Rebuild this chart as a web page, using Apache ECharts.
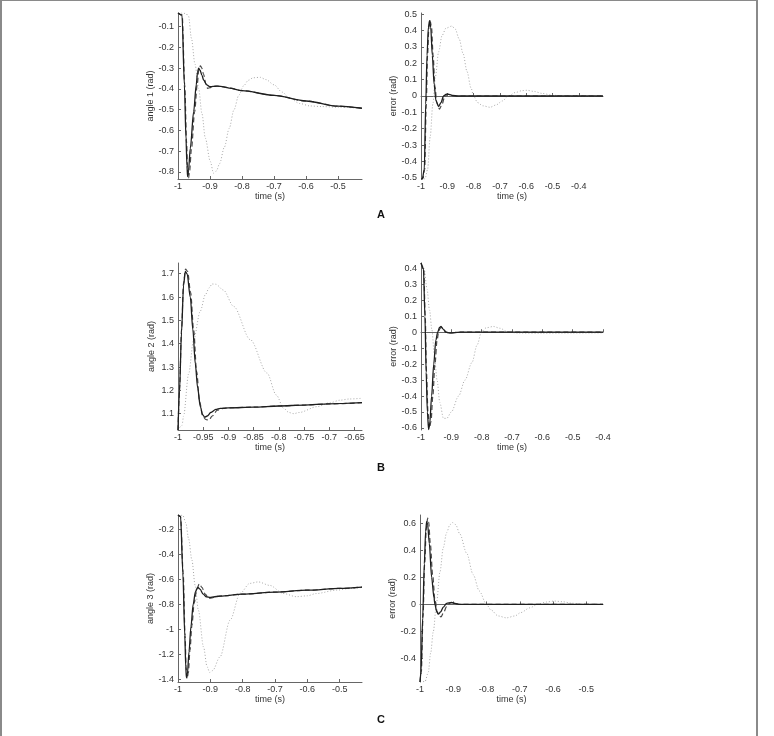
<!DOCTYPE html>
<html>
<head>
<meta charset="utf-8">
<script src="https://cdn.jsdelivr.net/npm/echarts@6/dist/echarts.min.js"></script>
<style>
html, body { margin: 0; padding: 0; background: #fff; overflow: hidden; }
#chart { width: 774px; height: 736px; }
.frame {
  position: absolute; left: 0; top: 0; width: 758px; height: 760px;
  box-sizing: border-box; pointer-events: none;
  border-top: 1px solid #8a8a8a; border-left: 2px solid #8a8a8a; border-right: 2px solid #8a8a8a;
}
</style>
</head>
<body>
<div id="chart"></div>
<div class="frame"></div>
<script>
// ---- tick labels ----
const xTicksA1 = [-1, -0.9, -0.8, -0.7, -0.6, -0.5]
const yTicksA1 = [-0.8, -0.7, -0.6, -0.5, -0.4, -0.3, -0.2, -0.1]
const xTicksA2 = [-1, -0.9, -0.8, -0.7, -0.6, -0.5, -0.4]
const yTicksA2 = [-0.5, -0.4, -0.3, -0.2, -0.1, 0, 0.1, 0.2, 0.3, 0.4, 0.5]
const xTicksB1 = [-1, -0.95, -0.9, -0.85, -0.8, -0.75, -0.7, -0.65]
const yTicksB1 = [1.1, 1.2, 1.3, 1.4, 1.5, 1.6, 1.7]
const xTicksB2 = [-1, -0.9, -0.8, -0.7, -0.6, -0.5, -0.4]
const yTicksB2 = [-0.6, -0.5, -0.4, -0.3, -0.2, -0.1, 0, 0.1, 0.2, 0.3, 0.4]
const xTicksC1 = [-1, -0.9, -0.8, -0.7, -0.6, -0.5]
const yTicksC1 = [-1.4, -1.2, -1, -0.8, -0.6, -0.4, -0.2]
const xTicksC2 = [-1, -0.9, -0.8, -0.7, -0.6, -0.5]
const yTicksC2 = [-0.4, -0.2, 0, 0.2, 0.4, 0.6]

// ---- A: angle 1 ----
const a1Solid = [[-1, -0.034], [-0.9875, -0.044], [-0.98, -0.38], [-0.975, -0.64], [-0.972, -0.77], [-0.970, -0.8225], [-0.967, -0.79],
  [-0.9616, -0.686], [-0.951, -0.509], [-0.943, -0.381], [-0.939, -0.32], [-0.9356, -0.300], [-0.931, -0.31], [-0.925, -0.335],
  [-0.92, -0.357], [-0.91, -0.38], [-0.901, -0.389], [-0.89, -0.388], [-0.878, -0.386], [-0.8575, -0.39], [-0.84, -0.396],
  [-0.8, -0.408], [-0.7, -0.431], [-0.6, -0.458], [-0.5, -0.483], [-0.425, -0.493]]
const a1Dash = [[-1, -0.034], [-0.987, -0.044], [-0.979, -0.38], [-0.973, -0.66], [-0.970, -0.79], [-0.967, -0.83], [-0.964, -0.80],
  [-0.958, -0.69], [-0.948, -0.51], [-0.94, -0.38], [-0.935, -0.31], [-0.930, -0.289], [-0.926, -0.298], [-0.92, -0.33],
  [-0.913, -0.375], [-0.9075, -0.397], [-0.9, -0.394], [-0.89, -0.388], [-0.878, -0.386], [-0.8575, -0.39], [-0.84, -0.396],
  [-0.8, -0.408], [-0.7, -0.431], [-0.6, -0.458], [-0.5, -0.483], [-0.425, -0.493]]
const a1Dot = [[-1, -0.034], [-0.985, -0.034], [-0.975, -0.037], [-0.967, -0.05], [-0.958, -0.156], [-0.947, -0.28], [-0.9356, -0.397],
  [-0.925, -0.52], [-0.9147, -0.637], [-0.899, -0.75], [-0.889, -0.806], [-0.88, -0.795], [-0.87, -0.76], [-0.855, -0.68],
  [-0.84, -0.59], [-0.825, -0.50], [-0.81, -0.43], [-0.795, -0.385], [-0.78, -0.358], [-0.765, -0.346], [-0.743, -0.344],
  [-0.725, -0.355], [-0.70, -0.38], [-0.675, -0.415], [-0.65, -0.445], [-0.62, -0.47], [-0.587, -0.482], [-0.55, -0.485],
  [-0.5, -0.488], [-0.425, -0.493]]

// ---- A: error ----
const e1Solid = [[-1, -0.508], [-0.995, -0.508], [-0.9875, -0.45], [-0.982, -0.05], [-0.977, 0.25], [-0.972, 0.42], [-0.9674, 0.461],
  [-0.963, 0.42], [-0.957, 0.25], [-0.95, 0.07], [-0.943, -0.03], [-0.933, -0.065], [-0.924, -0.04], [-0.914, 0.0], [-0.903, 0.012],
  [-0.893, 0.01], [-0.88, 0.003], [-0.86, 0], [-0.308, 0]]
const e1Dash = [[-1, -0.508], [-0.994, -0.508], [-0.986, -0.45], [-0.98, -0.05], [-0.975, 0.25], [-0.97, 0.42], [-0.965, 0.46],
  [-0.96, 0.42], [-0.954, 0.25], [-0.947, 0.06], [-0.94, -0.04], [-0.9295, -0.08], [-0.92, -0.05], [-0.91, -0.005], [-0.9, 0.01],
  [-0.89, 0.008], [-0.875, 0.002], [-0.86, 0], [-0.308, 0]]
const e1Dot = [[-1, -0.508], [-0.985, -0.508], [-0.975, -0.45], [-0.965, -0.25], [-0.955, -0.05], [-0.945, 0.12], [-0.933, 0.27],
  [-0.92, 0.37], [-0.905, 0.415], [-0.8826, 0.428], [-0.87, 0.41], [-0.855, 0.35], [-0.84, 0.26], [-0.825, 0.15], [-0.81, 0.05],
  [-0.80, 0.0], [-0.785, -0.04], [-0.765, -0.06], [-0.7375, -0.069], [-0.715, -0.055], [-0.69, -0.03], [-0.668, 0.0],
  [-0.64, 0.022], [-0.615, 0.033], [-0.598, 0.035], [-0.57, 0.028], [-0.54, 0.016], [-0.5, 0.005], [-0.46, 0.0], [-0.308, 0]]

// ---- B: angle 2 ----
const a2Solid = [[-1, 1.03], [-0.997, 1.2], [-0.993, 1.45], [-0.989, 1.65], [-0.9855, 1.71], [-0.982, 1.70], [-0.9756, 1.60],
  [-0.9705, 1.46], [-0.9657, 1.315], [-0.961, 1.21], [-0.9557, 1.13], [-0.951, 1.095], [-0.947, 1.085], [-0.942, 1.09],
  [-0.935, 1.105], [-0.925, 1.118], [-0.916, 1.123], [-0.9, 1.125], [-0.85, 1.128], [-0.8, 1.133], [-0.75, 1.137],
  [-0.7, 1.142], [-0.635, 1.147]]
const a2Dash = [[-1, 1.03], [-0.997, 1.2], [-0.993, 1.46], [-0.989, 1.66], [-0.985, 1.72], [-0.981, 1.71], [-0.975, 1.62],
  [-0.969, 1.46], [-0.963, 1.28], [-0.957, 1.15], [-0.951, 1.09], [-0.945, 1.075], [-0.939, 1.072], [-0.932, 1.09],
  [-0.922, 1.115], [-0.91, 1.123], [-0.9, 1.125], [-0.85, 1.128], [-0.8, 1.133], [-0.75, 1.137], [-0.7, 1.142], [-0.635, 1.147]]
const a2Dot = [[-1, 1.03], [-0.992, 1.05], [-0.9889, 1.09], [-0.979, 1.27], [-0.969, 1.417], [-0.9557, 1.54], [-0.9458, 1.61],
  [-0.938, 1.64], [-0.9325, 1.656], [-0.925, 1.655], [-0.91, 1.63], [-0.8896, 1.56], [-0.8565, 1.417], [-0.8233, 1.274],
  [-0.805, 1.18], [-0.7904, 1.123], [-0.78, 1.105], [-0.7705, 1.10], [-0.76, 1.105], [-0.724, 1.13], [-0.70, 1.146],
  [-0.678, 1.158], [-0.66, 1.163], [-0.635, 1.166]]

// ---- B: error ----
const e2Solid = [[-1, 0.434], [-0.992, 0.40], [-0.987, 0.1], [-0.983, -0.25], [-0.979, -0.5], [-0.975, -0.61], [-0.971, -0.57],
  [-0.965, -0.40], [-0.958, -0.2], [-0.951, -0.05], [-0.945, 0.0], [-0.939, 0.03], [-0.934, 0.036], [-0.927, 0.02],
  [-0.918, 0.0], [-0.905, -0.005], [-0.89, -0.002], [-0.87, 0], [-0.4, 0]]
const e2Dash = [[-1, 0.434], [-0.991, 0.40], [-0.986, 0.1], [-0.982, -0.25], [-0.977, -0.5], [-0.972, -0.6], [-0.967, -0.56],
  [-0.961, -0.40], [-0.954, -0.2], [-0.947, -0.05], [-0.942, 0.0], [-0.937, 0.025], [-0.932, 0.03], [-0.925, 0.015],
  [-0.916, 0.0], [-0.905, -0.006], [-0.89, -0.002], [-0.87, 0], [-0.4, 0]]
const e2Dot = [[-1, 0.434], [-0.99, 0.40], [-0.98, 0.27], [-0.972, 0.14], [-0.964, 0.015], [-0.956, -0.14], [-0.947, -0.30],
  [-0.938, -0.44], [-0.926, -0.54], [-0.915, -0.54], [-0.9, -0.50], [-0.876, -0.40], [-0.855, -0.30], [-0.832, -0.19],
  [-0.815, -0.08], [-0.80, 0.005], [-0.785, 0.028], [-0.761, 0.036], [-0.74, 0.025], [-0.712, 0.0], [-0.68, -0.005],
  [-0.6, -0.006], [-0.5, -0.005], [-0.4, -0.004]]

// ---- C: angle 3 ----
const a3Solid = [[-1, -0.088], [-0.992, -0.10], [-0.985, -0.55], [-0.979, -1.05], [-0.976, -1.30], [-0.974, -1.386],
  [-0.971, -1.36], [-0.966, -1.18], [-0.96, -0.98], [-0.953, -0.80], [-0.946, -0.70], [-0.939, -0.666], [-0.932, -0.68],
  [-0.922, -0.72], [-0.912, -0.742], [-0.90, -0.746], [-0.89, -0.742], [-0.87, -0.735], [-0.8, -0.72], [-0.7, -0.703],
  [-0.6, -0.688], [-0.5, -0.674], [-0.431, -0.664]]
const a3Dash = [[-1, -0.088], [-0.992, -0.10], [-0.984, -0.55], [-0.978, -1.05], [-0.975, -1.30], [-0.972, -1.394],
  [-0.968, -1.35], [-0.963, -1.17], [-0.957, -0.97], [-0.95, -0.79], [-0.942, -0.68], [-0.934, -0.637], [-0.926, -0.665],
  [-0.916, -0.72], [-0.905, -0.755], [-0.895, -0.75], [-0.88, -0.738], [-0.86, -0.733], [-0.8, -0.72], [-0.7, -0.703],
  [-0.6, -0.688], [-0.5, -0.674], [-0.431, -0.664]]
const a3Dot = [[-1, -0.088], [-0.985, -0.09], [-0.976, -0.15], [-0.967, -0.28], [-0.957, -0.448], [-0.947, -0.65],
  [-0.937, -0.848], [-0.921, -1.142], [-0.91, -1.30], [-0.902, -1.345], [-0.893, -1.33], [-0.87, -1.22], [-0.839, -0.928],
  [-0.808, -0.714], [-0.778, -0.634], [-0.752, -0.622], [-0.716, -0.65], [-0.675, -0.714], [-0.634, -0.74], [-0.60, -0.733],
  [-0.573, -0.715], [-0.51, -0.688], [-0.47, -0.675], [-0.431, -0.666]]

// ---- C: error ----
const e3Solid = [[-1, -0.573], [-0.997, -0.5], [-0.992, -0.1], [-0.987, 0.3], [-0.983, 0.54], [-0.98, 0.612], [-0.977, 0.59],
  [-0.972, 0.45], [-0.965, 0.2], [-0.958, 0.05], [-0.955, 0.0], [-0.95, -0.05], [-0.945, -0.072], [-0.938, -0.055],
  [-0.93, -0.02], [-0.92, 0.008], [-0.905, 0.015], [-0.895, 0.008], [-0.88, 0.0], [-0.45, 0]]
const e3Dash = [[-1, -0.573], [-0.996, -0.5], [-0.991, -0.1], [-0.986, 0.3], [-0.981, 0.56], [-0.977, 0.638], [-0.974, 0.61],
  [-0.969, 0.45], [-0.962, 0.22], [-0.955, 0.03], [-0.948, -0.06], [-0.937, -0.092], [-0.929, -0.06], [-0.92, -0.015],
  [-0.91, 0.01], [-0.9, 0.012], [-0.885, 0.0], [-0.45, 0]]
const e3Dot = [[-1, -0.573], [-0.985, -0.57], [-0.975, -0.5], [-0.968, -0.36], [-0.96, -0.2], [-0.95, 0.02], [-0.94, 0.24],
  [-0.93, 0.42], [-0.92, 0.53], [-0.91, 0.59], [-0.902, 0.605], [-0.893, 0.59], [-0.88, 0.52], [-0.86, 0.38], [-0.84, 0.22],
  [-0.822, 0.10], [-0.8, 0.0], [-0.787, -0.04], [-0.765, -0.085], [-0.74, -0.099], [-0.715, -0.085], [-0.697, -0.06],
  [-0.67, -0.025], [-0.647, 0.0], [-0.62, 0.018], [-0.597, 0.025], [-0.57, 0.02], [-0.547, 0.01], [-0.52, 0.003], [-0.45, 0]]

// panel layout: grid box in px, axis ranges, names
const panels = [
  { grid: { left: 178, top: 13, width: 184, height: 166 }, xMin: -1, xMax: -0.425, yMin: -0.834, yMax: -0.034,
    xTicks: xTicksA1, yTicks: yTicksA1, yName: 'angle 1 (rad)', lines: [a1Solid, a1Dash, a1Dot] },
  { grid: { left: 421, top: 13, width: 182, height: 166 }, xMin: -1, xMax: -0.308, yMin: -0.508, yMax: 0.508,
    xTicks: xTicksA2, yTicks: yTicksA2, yName: 'error (rad)', lines: [e1Solid, e1Dash, e1Dot] },
  { grid: { left: 178, top: 263, width: 184, height: 167 }, xMin: -1, xMax: -0.635, yMin: 1.03, yMax: 1.746,
    xTicks: xTicksB1, yTicks: yTicksB1, yName: 'angle 2 (rad)', lines: [a2Solid, a2Dash, a2Dot] },
  { grid: { left: 421, top: 263, width: 182, height: 167 }, xMin: -1, xMax: -0.4, yMin: -0.613, yMax: 0.434,
    xTicks: xTicksB2, yTicks: yTicksB2, yName: 'error (rad)', lines: [e2Solid, e2Dash, e2Dot] },
  { grid: { left: 178, top: 515, width: 184, height: 167 }, xMin: -1, xMax: -0.431, yMin: -1.421, yMax: -0.088,
    xTicks: xTicksC1, yTicks: yTicksC1, yName: 'angle 3 (rad)', lines: [a3Solid, a3Dash, a3Dot] },
  { grid: { left: 420, top: 515, width: 183, height: 167 }, xMin: -1, xMax: -0.45, yMin: -0.573, yMax: 0.661,
    xTicks: xTicksC2, yTicks: yTicksC2, yName: 'error (rad)', lines: [e3Solid, e3Dash, e3Dot] }
]

const lineStyles = [
  { color: '#1e1e1e', width: 1.3, type: 'solid' },
  { color: '#4a4a4a', width: 1.2, type: [5, 3] },
  { color: '#a8a8a8', width: 1, type: [1, 2] }
]

const font = 'Liberation Sans, Arial, Helvetica, sans-serif'
const fmt = (v) => String(Math.round(v * 100) / 100)

const axisCommon = {
  axisLine: { show: true, lineStyle: { color: '#666', width: 1 } },
  splitLine: { show: false },
  nameLocation: 'middle',
  nameTextStyle: { fontSize: 9, color: '#333', fontFamily: font }
}

const grids = panels.map((p) => p.grid)
const xAxes = panels.map((p, i) => ({
  ...axisCommon,
  type: 'value', gridIndex: i, min: p.xMin, max: p.xMax,
  name: 'time (s)', nameGap: 12,
  axisTick: { inside: true, length: 3, lineStyle: { color: '#666' }, customValues: p.xTicks },
  axisLabel: { customValues: p.xTicks, formatter: fmt, fontSize: 9, color: '#333', fontFamily: font, margin: 3 }
}))
const yAxes = panels.map((p, i) => ({
  ...axisCommon,
  type: 'value', gridIndex: i, min: p.yMin, max: p.yMax,
  name: p.yName, nameGap: 22,
  axisTick: { inside: true, length: 3, lineStyle: { color: '#666' }, customValues: p.yTicks },
  axisLabel: { customValues: p.yTicks, formatter: fmt, fontSize: 9, color: '#333', fontFamily: font, margin: 4 }
}))

const series = []
panels.forEach((p, i) => {
  // dotted drawn first so the solid line sits on top
  ;[2, 1, 0].forEach((k) => {
    series.push({
      type: 'line', xAxisIndex: i, yAxisIndex: i, data: p.lines[k],
      showSymbol: false, symbol: 'none', smooth: 0.3, smoothMonotone: 'x',
      clip: true, silent: true, lineStyle: lineStyles[k]
    })
  })
})

const chart = echarts.init(document.getElementById('chart'), null, { renderer: 'canvas' })
chart.setOption({
  animation: false,
  backgroundColor: '#fff',
  title: [
    { text: 'A', left: 377, top: 209 },
    { text: 'B', left: 377, top: 462 },
    { text: 'C', left: 377, top: 714 }
  ].map((t) => ({ ...t, padding: 0, textStyle: { fontSize: 11, fontWeight: 'bold', color: '#111', fontFamily: font } })),
  grid: grids,
  xAxis: xAxes,
  yAxis: yAxes,
  series: series
})
</script>
</body>
</html>
